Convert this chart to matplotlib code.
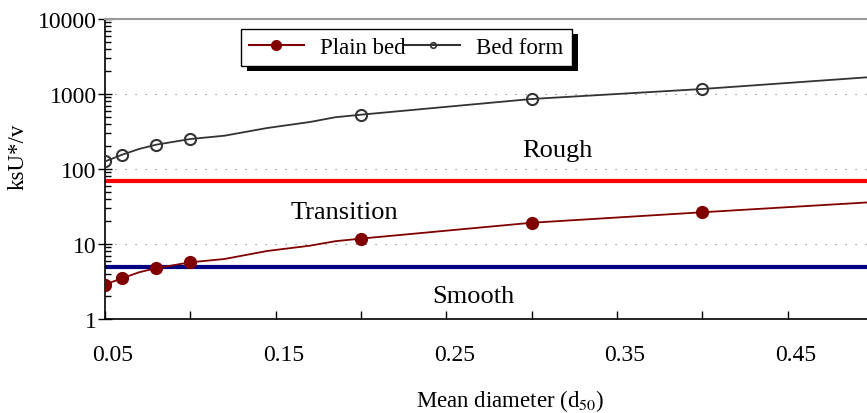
import matplotlib
matplotlib.use("Agg")
import matplotlib.pyplot as plt
import matplotlib.transforms as mtransforms
from matplotlib.lines import Line2D
from matplotlib.patches import Rectangle
from matplotlib.ticker import FixedLocator, FuncFormatter, LogLocator

plt.rcParams['font.family'] = ['Liberation Serif', 'DejaVu Serif']
plt.rcParams['mathtext.fontset'] = 'stix'

# mean diameter d50 and the two relative roughness curves (ksU*/v)
d50 = [0.05, 0.06, 0.07, 0.08, 0.10, 0.12, 0.145, 0.17, 0.185, 0.2, 0.3, 0.4, 0.5]
plain_bed = [2.88, 3.49, 4.20, 4.76, 5.70, 6.31, 8.07, 9.49, 10.9, 11.8, 19.2, 26.5, 36.2]
bed_form = [126, 155, 185, 211, 251, 278, 352, 423, 490, 530, 858, 1166, 1690]
marker_idx = [0, 1, 3, 4, 9, 10, 11]

# regime limits
rough_limit = 70
smooth_limit = 5

regimes = ['Rough', 'Transition', 'Smooth']
regime_x = [0.315, 0.190, 0.266]
regime_y = [179, 26.7, 2.03]

fig = plt.figure(figsize=(8.67, 4.14), dpi=100)
ax = fig.add_axes([105 / 867, 1 - 320 / 414, 768 / 867, 300 / 414])

ax.plot(d50, plain_bed, color='#800000', lw=1.3, marker='o', ms=8.5,
        markevery=marker_idx, mfc='#800000', mec='#800000', zorder=3)
ax.plot(d50, bed_form, color='#333333', lw=1.3, marker='o', ms=8,
        markevery=marker_idx, mfc='none', mec='#333333', mew=1.5, zorder=3)

ax.axhline(rough_limit, color='#ff0000', lw=3, zorder=2)
ax.axhline(smooth_limit, color='#000080', lw=3, zorder=2)

for name, x, y in zip(regimes, regime_x, regime_y):
    ax.text(x, y, name, fontsize=19, ha='center', va='center')

ax.set_yscale('log')
ax.set_ylim(1, 10000)
ax.set_xlim(0.05, 0.5)

# dotted grid on the inner decades only
for y in [10, 100, 1000]:
    ax.axhline(y, color='#777777', lw=0.8, linestyle=(0, (1, 8)), zorder=1)

ax.xaxis.set_major_locator(FixedLocator([0.05, 0.10, 0.15, 0.20, 0.25, 0.30, 0.35, 0.40, 0.45]))
ax.xaxis.set_major_formatter(FuncFormatter(
    lambda v, p: f'{v:.2f}' if round(v * 100) % 10 == 5 else ''))
ax.yaxis.set_major_locator(LogLocator(base=10, numticks=10))
ax.yaxis.set_minor_locator(LogLocator(base=10, subs=range(2, 10), numticks=20))
ax.yaxis.set_major_formatter(FuncFormatter(lambda v, p: f'{v:g}'))

ax.tick_params(axis='x', which='major', direction='in', length=6, width=1,
               labelsize=17, pad=18, top=False)
ax.tick_params(axis='y', which='major', direction='inout', length=10, width=1,
               labelsize=17, pad=1)
ax.tick_params(axis='y', which='minor', direction='in', length=4.5, width=1)

# tick labels sit a little to the right of their ticks
shift = mtransforms.ScaledTranslation(8 / 100, 0, fig.dpi_scale_trans)
for lbl in ax.get_xticklabels():
    lbl.set_transform(lbl.get_transform() + shift)

ax.spines['right'].set_visible(False)
ax.spines['top'].set_color('#999999')
ax.spines['top'].set_linewidth(1.5)
for s in ['left', 'bottom']:
    ax.spines[s].set_linewidth(1.2)
    ax.spines[s].set_color('black')

fig.text(18 / 867, 1 - 157 / 414, 'ksU*/v', rotation=90, fontsize=16.5,
         ha='center', va='center')
fig.text(510 / 867, 1 - 401 / 414, 'Mean diameter (d$_{50}$)', fontsize=16.5,
         ha='center', va='center')

handles = [
    Line2D([], [], color='#800000', lw=1.5, marker='o', ms=7, mfc='#800000', mec='#800000'),
    Line2D([], [], color='#333333', lw=1.5, marker='o', ms=4, mfc='none', mec='#333333', mew=1.2),
]
leg = ax.legend(handles, ['Plain bed', 'Bed form'], ncol=2, fontsize=16.5,
                loc='center', bbox_to_anchor=((406 - 105) / 768, (320 - 48.5) / 300),
                handlelength=2.4, handletextpad=0.7, columnspacing=0.0,
                borderpad=0.35, fancybox=False, framealpha=1, edgecolor='black')
leg.get_frame().set_linewidth(1)
leg.set_zorder(6)

# solid black drop shadow behind the legend box
fig.canvas.draw()
bb = leg.get_window_extent()
ax.add_patch(Rectangle((bb.x0 + 6, bb.y0 - 5), bb.width, bb.height,
                       transform=mtransforms.IdentityTransform(),
                       facecolor='black', edgecolor='none', zorder=5.5, clip_on=False))

fig.savefig('out.png', dpi=100)
